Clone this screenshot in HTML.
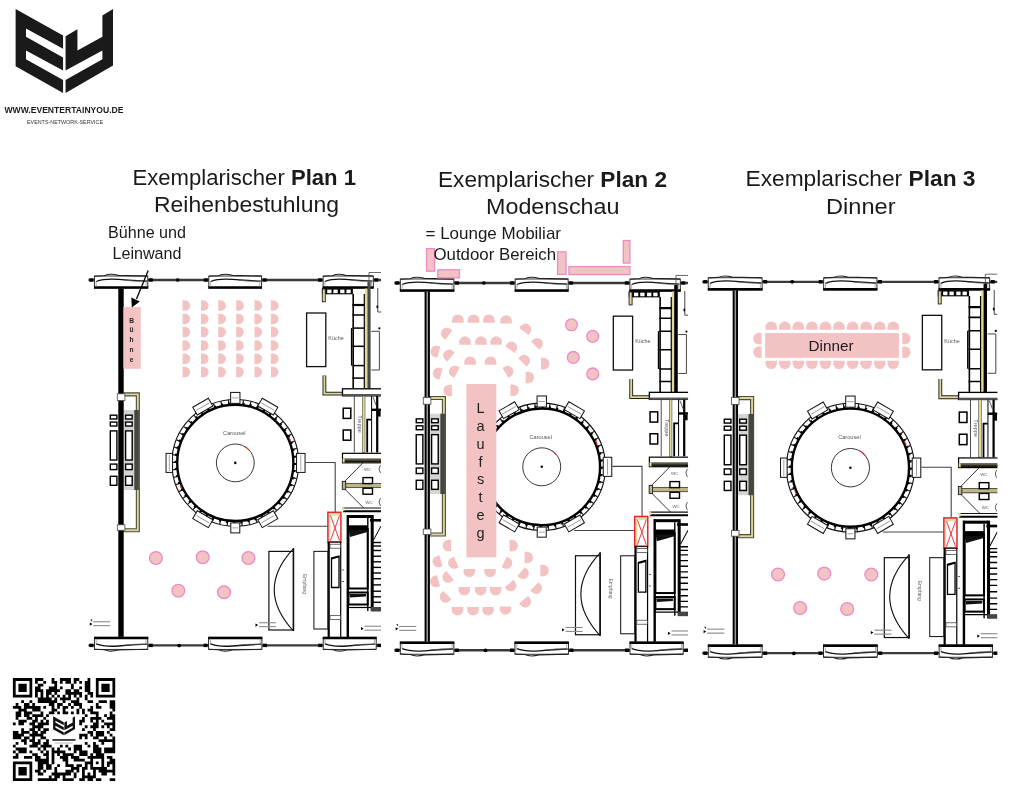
<!DOCTYPE html>
<html><head><meta charset="utf-8"><title>Plan</title>
<style>
html,body{margin:0;padding:0;background:#fff;}
body{width:1019px;height:801px;overflow:hidden;position:relative;font-family:"Liberation Sans",sans-serif;}
svg text{font-family:"Liberation Sans",sans-serif;}
svg{will-change:transform;}
</style></head><body>
<svg width="1019" height="801" viewBox="0 0 1019 801" style="position:absolute;left:0;top:0">
<defs>
<clipPath id="pc"><rect x="86" y="262" width="295" height="400"/></clipPath>
<path id="ch" d="M-4,-5.5 H-1.5 A5.5,5.5 0 0 1 -1.5,5.5 H-4 Z" fill="#F3C3C4"/>
<g id="base"><line x1="88.5" y1="280" x2="381" y2="280" stroke="#3a3a3a" stroke-width="2.3"/>
<line x1="88.5" y1="645.4" x2="381" y2="645.4" stroke="#3a3a3a" stroke-width="2.3"/>
<rect x="94.4" y="276.0" width="53.4" height="12.3" fill="#fff" stroke="#1a1a1a" stroke-width="0.9"/>
<path d="M94.7,276.2 L104.4,275.7 Q109.9,273.0 118.3,275.4 L147.5,276.1" fill="none" stroke="#222" stroke-width="1.1"/>
<path d="M96.2,281.5 Q104.4,278.4 118.3,279.4 T147.0,281.2" fill="none" stroke="#111" stroke-width="1.3"/>
<path d="M123.9,280.2 Q135.1,281.6 146.0,281.0" fill="none" stroke="#555" stroke-width="0.8"/>
<line x1="94.0" y1="287.3" x2="148.2" y2="287.3" stroke="#000" stroke-width="2.2"/>
<line x1="96.2" y1="281.0" x2="96.2" y2="287.0" stroke="#777" stroke-width="0.6"/>
<line x1="146.0" y1="281.0" x2="146.0" y2="287.0" stroke="#777" stroke-width="0.6"/>
<rect x="89.4" y="278.3" width="4" height="3.4" fill="#000"/>
<rect x="148.8" y="278.3" width="4" height="3.4" fill="#000"/>
<rect x="208.79999999999998" y="276.0" width="52.8" height="12.3" fill="#fff" stroke="#1a1a1a" stroke-width="0.9"/>
<path d="M209.1,276.2 L218.6,275.7 Q224.2,273.0 232.4,275.4 L261.3,276.1" fill="none" stroke="#222" stroke-width="1.1"/>
<path d="M210.6,281.5 Q218.6,278.4 232.4,279.4 T260.8,281.2" fill="none" stroke="#111" stroke-width="1.3"/>
<path d="M238.0,280.2 Q249.0,281.6 259.8,281.0" fill="none" stroke="#555" stroke-width="0.8"/>
<line x1="208.4" y1="287.3" x2="262.0" y2="287.3" stroke="#000" stroke-width="2.2"/>
<line x1="210.6" y1="281.0" x2="210.6" y2="287.0" stroke="#777" stroke-width="0.6"/>
<line x1="259.8" y1="281.0" x2="259.8" y2="287.0" stroke="#777" stroke-width="0.6"/>
<rect x="203.79999999999998" y="278.3" width="4" height="3.4" fill="#000"/>
<rect x="262.6" y="278.3" width="4" height="3.4" fill="#000"/>
<rect x="323.09999999999997" y="276.0" width="50.2" height="12.3" fill="#fff" stroke="#1a1a1a" stroke-width="0.9"/>
<path d="M323.4,276.2 L332.4,275.7 Q337.7,273.0 345.6,275.4 L373.0,276.1" fill="none" stroke="#222" stroke-width="1.1"/>
<path d="M324.9,281.5 Q332.4,278.4 345.6,279.4 T372.5,281.2" fill="none" stroke="#111" stroke-width="1.3"/>
<path d="M350.8,280.2 Q361.4,281.6 371.5,281.0" fill="none" stroke="#555" stroke-width="0.8"/>
<line x1="322.7" y1="287.3" x2="373.7" y2="287.3" stroke="#000" stroke-width="2.2"/>
<line x1="324.9" y1="281.0" x2="324.9" y2="287.0" stroke="#777" stroke-width="0.6"/>
<line x1="371.5" y1="281.0" x2="371.5" y2="287.0" stroke="#777" stroke-width="0.6"/>
<rect x="318.09999999999997" y="278.3" width="4" height="3.4" fill="#000"/>
<rect x="374.3" y="278.3" width="4" height="3.4" fill="#000"/>
<g transform="translate(0,925.4) scale(1,-1)">
<rect x="94.4" y="276.0" width="53.4" height="12.3" fill="#fff" stroke="#1a1a1a" stroke-width="0.9"/>
<path d="M94.7,276.2 L104.4,275.7 Q109.9,273.0 118.3,275.4 L147.5,276.1" fill="none" stroke="#222" stroke-width="1.1"/>
<path d="M96.2,281.5 Q104.4,278.4 118.3,279.4 T147.0,281.2" fill="none" stroke="#111" stroke-width="1.3"/>
<path d="M123.9,280.2 Q135.1,281.6 146.0,281.0" fill="none" stroke="#555" stroke-width="0.8"/>
<line x1="94.0" y1="287.3" x2="148.2" y2="287.3" stroke="#000" stroke-width="2.2"/>
<line x1="96.2" y1="281.0" x2="96.2" y2="287.0" stroke="#777" stroke-width="0.6"/>
<line x1="146.0" y1="281.0" x2="146.0" y2="287.0" stroke="#777" stroke-width="0.6"/>
<rect x="89.4" y="278.3" width="4" height="3.4" fill="#000"/>
<rect x="148.8" y="278.3" width="4" height="3.4" fill="#000"/>
<rect x="208.6" y="276.0" width="53.3" height="12.3" fill="#fff" stroke="#1a1a1a" stroke-width="0.9"/>
<path d="M208.9,276.2 L218.5,275.7 Q224.1,273.0 232.5,275.4 L261.6,276.1" fill="none" stroke="#222" stroke-width="1.1"/>
<path d="M210.4,281.5 Q218.5,278.4 232.5,279.4 T261.1,281.2" fill="none" stroke="#111" stroke-width="1.3"/>
<path d="M238.0,280.2 Q249.2,281.6 260.1,281.0" fill="none" stroke="#555" stroke-width="0.8"/>
<line x1="208.20000000000002" y1="287.3" x2="262.3" y2="287.3" stroke="#000" stroke-width="2.2"/>
<line x1="210.4" y1="281.0" x2="210.4" y2="287.0" stroke="#777" stroke-width="0.6"/>
<line x1="260.1" y1="281.0" x2="260.1" y2="287.0" stroke="#777" stroke-width="0.6"/>
<rect x="203.6" y="278.3" width="4" height="3.4" fill="#000"/>
<rect x="262.90000000000003" y="278.3" width="4" height="3.4" fill="#000"/>
<rect x="323.2" y="276.0" width="53.0" height="12.3" fill="#fff" stroke="#1a1a1a" stroke-width="0.9"/>
<path d="M323.5,276.2 L333.1,275.7 Q338.6,273.0 346.9,275.4 L375.9,276.1" fill="none" stroke="#222" stroke-width="1.1"/>
<path d="M325.0,281.5 Q333.1,278.4 346.9,279.4 T375.4,281.2" fill="none" stroke="#111" stroke-width="1.3"/>
<path d="M352.5,280.2 Q363.5,281.6 374.4,281.0" fill="none" stroke="#555" stroke-width="0.8"/>
<line x1="322.8" y1="287.3" x2="376.59999999999997" y2="287.3" stroke="#000" stroke-width="2.2"/>
<line x1="325.0" y1="281.0" x2="325.0" y2="287.0" stroke="#777" stroke-width="0.6"/>
<line x1="374.4" y1="281.0" x2="374.4" y2="287.0" stroke="#777" stroke-width="0.6"/>
<rect x="318.2" y="278.3" width="4" height="3.4" fill="#000"/>
<rect x="377.2" y="278.3" width="4" height="3.4" fill="#000"/>
</g>
<ellipse cx="177.6" cy="280" rx="2" ry="1.8" fill="#000"/>
<ellipse cx="179.2" cy="645.6" rx="2" ry="1.8" fill="#000"/>
<path d="M369,272.5 H381 M369,272.5 V289" fill="none" stroke="#444" stroke-width="0.8"/>
<path d="M123.5,394.4 H137.85 V530.3 H123.5" fill="none" stroke="#4e4c3c" stroke-width="4.1"/>
<path d="M123.5,394.4 H137.85 V530.3 H123.5" fill="none" stroke="#DCD49C" stroke-width="1.9"/>
<rect x="124" y="410" width="14.6" height="80" fill="#d4d4d4"/>
<rect x="134.3" y="410" width="4.6" height="80" fill="#46463e"/>
<rect x="110.3" y="415.2" width="6.6" height="3.8" fill="#fff" stroke="#000" stroke-width="1.4"/>
<rect x="110.3" y="422.09999999999997" width="6.6" height="3.9" fill="#fff" stroke="#000" stroke-width="1.4"/>
<rect x="110.3" y="430.9" width="6.6" height="29.1" fill="#fff" stroke="#000" stroke-width="1.4"/>
<rect x="110.3" y="464.09999999999997" width="6.6" height="5.5" fill="#fff" stroke="#000" stroke-width="1.4"/>
<rect x="110.3" y="476.3" width="6.6" height="9.0" fill="#fff" stroke="#000" stroke-width="1.4"/>
<rect x="125.60000000000001" y="415.2" width="6.6" height="3.8" fill="#fff" stroke="#000" stroke-width="1.4"/>
<rect x="125.60000000000001" y="422.09999999999997" width="6.6" height="3.9" fill="#fff" stroke="#000" stroke-width="1.4"/>
<rect x="125.60000000000001" y="430.9" width="6.6" height="29.1" fill="#fff" stroke="#000" stroke-width="1.4"/>
<rect x="125.60000000000001" y="464.09999999999997" width="6.6" height="5.5" fill="#fff" stroke="#000" stroke-width="1.4"/>
<rect x="125.60000000000001" y="476.3" width="6.6" height="9.0" fill="#fff" stroke="#000" stroke-width="1.4"/>
<circle cx="235.3" cy="462.9" r="63.4" fill="#fff" stroke="#111" stroke-width="1.1"/>
<circle cx="235.3" cy="462.9" r="60.8" fill="none" stroke="#222" stroke-width="5" pathLength="520" stroke-dasharray="1.7 8.3"/>
<circle cx="235.3" cy="462.9" r="59.6" fill="none" stroke="#000" stroke-width="2.2" pathLength="520" stroke-dasharray="3 7"/>
<circle cx="235.3" cy="462.9" r="58.1" fill="none" stroke="#000" stroke-width="2.4"/>
<g transform="translate(235.30,397.90) rotate(360)"><rect x="-4.65" y="-5.5" width="9.3" height="11" fill="#fff" stroke="#111" stroke-width="1.0"/><line x1="-3.1500000000000004" y1="0" x2="3.1500000000000004" y2="0" stroke="#666" stroke-width="0.6"/></g>
<g transform="translate(235.30,527.90) rotate(180)"><rect x="-4.5" y="-5.0" width="9" height="10" fill="#fff" stroke="#111" stroke-width="1.0"/><line x1="-3.0" y1="0" x2="3.0" y2="0" stroke="#666" stroke-width="0.6"/></g>
<g transform="translate(169.30,462.90) rotate(270)"><rect x="-9.5" y="-3.25" width="19" height="6.5" fill="#fff" stroke="#111" stroke-width="1.0"/><line x1="-8.0" y1="0" x2="8.0" y2="0" stroke="#666" stroke-width="0.6"/></g>
<g transform="translate(300.80,462.90) rotate(90)"><rect x="-9.5" y="-4.25" width="19" height="8.5" fill="#fff" stroke="#111" stroke-width="1.0"/><line x1="-8.0" y1="0" x2="8.0" y2="0" stroke="#666" stroke-width="0.6"/></g>
<g transform="translate(202.80,406.61) rotate(330)"><rect x="-9.0" y="-4.5" width="18" height="9" fill="#fff" stroke="#111" stroke-width="1.0"/><line x1="-7.5" y1="0" x2="7.5" y2="0" stroke="#666" stroke-width="0.6"/></g>
<g transform="translate(267.80,406.61) rotate(390)"><rect x="-9.0" y="-4.5" width="18" height="9" fill="#fff" stroke="#111" stroke-width="1.0"/><line x1="-7.5" y1="0" x2="7.5" y2="0" stroke="#666" stroke-width="0.6"/></g>
<g transform="translate(202.80,519.19) rotate(210)"><rect x="-9.0" y="-4.5" width="18" height="9" fill="#fff" stroke="#111" stroke-width="1.0"/><line x1="-7.5" y1="0" x2="7.5" y2="0" stroke="#666" stroke-width="0.6"/></g>
<g transform="translate(267.80,519.19) rotate(150)"><rect x="-9.0" y="-4.5" width="18" height="9" fill="#fff" stroke="#111" stroke-width="1.0"/><line x1="-7.5" y1="0" x2="7.5" y2="0" stroke="#666" stroke-width="0.6"/></g>
<circle cx="235.3" cy="462.9" r="18.9" fill="none" stroke="#222" stroke-width="0.9"/>
<circle cx="235.3" cy="462.9" r="1.3" fill="#111"/>
<path d="M244.75,446.53 A18.9,18.9 0 0 1 249.78,450.75" fill="none" stroke="#E5262E" stroke-width="1.1"/>
<path d="M288.78,436.82 A59.5,59.5 0 0 1 290.47,440.61 M181.82,488.98 A59.5,59.5 0 0 1 180.13,485.19" fill="none" stroke="#E5262E" stroke-width="1.2"/>
<text x="234.3" y="434.8" font-size="5.6" fill="#555" text-anchor="middle">Carousel</text>
<rect x="306.6" y="313" width="19.2" height="53.6" fill="none" stroke="#111" stroke-width="1.3"/>
<text x="336" y="340" font-size="5.4" fill="#555" text-anchor="middle">Küche</text>
<rect x="321.9" y="288.3" width="31" height="6" fill="#000"/>
<rect x="327.2" y="289.6" width="4.3" height="3.6" fill="#fff"/>
<rect x="333.4" y="289.6" width="4.3" height="3.6" fill="#fff"/>
<rect x="340.2" y="289.6" width="4.3" height="3.6" fill="#fff"/>
<rect x="346.4" y="289.6" width="4.3" height="3.6" fill="#fff"/>
<rect x="322.3" y="289" width="3" height="12.8" fill="#E2D89A" stroke="#222" stroke-width="0.9"/>
<path d="M353.2,294 V388.5" stroke="#000" stroke-width="1.6"/>
<path d="M351.6,328.1 V365.6" stroke="#000" stroke-width="1.4"/>
<line x1="352.4" y1="305" x2="365" y2="305" stroke="#000" stroke-width="2.2"/>
<line x1="352.4" y1="315" x2="365" y2="315" stroke="#000" stroke-width="1.5"/>
<line x1="352.4" y1="328.1" x2="365" y2="328.1" stroke="#000" stroke-width="1.5"/>
<line x1="352.4" y1="346.3" x2="365" y2="346.3" stroke="#000" stroke-width="1.5"/>
<line x1="352.4" y1="365.6" x2="365" y2="365.6" stroke="#000" stroke-width="1.5"/>
<line x1="352.4" y1="378.1" x2="365" y2="378.1" stroke="#000" stroke-width="1.5"/>
<rect x="364.9" y="288.5" width="2.4" height="100" fill="#E2D89A"/>
<line x1="364.3" y1="294" x2="364.3" y2="388.5" stroke="#000" stroke-width="1.2"/>
<rect x="367.4" y="282" width="3.2" height="106.5" fill="#4a4a4a" class="dstrip"/>
<path d="M377.8,288 V312 H381 M371.3,331.3 H379.4 V370 H371.3" fill="none" stroke="#333" stroke-width="0.9"/>
<circle cx="379.4" cy="328.3" r="1.1" fill="#000"/>
<rect x="376.5" y="305.5" width="1.6" height="2.6" fill="#000"/>
<path d="M324.4,375.6 V393.6 H342.5" fill="none" stroke="#222" stroke-width="3.8"/>
<path d="M324.4,375.6 V393.6 H342.5" fill="none" stroke="#E2D89A" stroke-width="1.9"/>
<rect x="342.5" y="388.8" width="40" height="7" fill="#fff" stroke="#000" stroke-width="1.3"/>
<rect x="342.5" y="394" width="40" height="2.2" fill="#555"/>
<line x1="354.3" y1="396" x2="354.3" y2="452.5" stroke="#222" stroke-width="0.8"/>
<rect x="362.4" y="396" width="2.6" height="56.5" fill="#E2D89A" stroke="#333" stroke-width="0.5"/>
<path d="M367.2,452.5 V419.6 H371.3" fill="none" stroke="#000" stroke-width="1.8"/>
<line x1="371.6" y1="396" x2="371.6" y2="452.5" stroke="#000" stroke-width="1.0"/>
<line x1="377.2" y1="396" x2="377.2" y2="452.5" stroke="#000" stroke-width="2.2"/>
<rect x="371.6" y="408.6" width="9.5" height="2.4" fill="#000"/>
<rect x="377.4" y="411" width="3.2" height="5.6" fill="#000"/>
<path d="M373,397 L376,405" stroke="#333" stroke-width="0.8"/>
<text transform="translate(358.2,424) rotate(90)" font-size="5.6" fill="#555" text-anchor="middle">Treppe</text>
<rect x="343.2" y="408.2" width="7.6" height="10.2" fill="#fff" stroke="#000" stroke-width="1.5"/>
<rect x="343.2" y="430.0" width="7.6" height="10.2" fill="#fff" stroke="#000" stroke-width="1.5"/>
<rect x="342.5" y="453.3" width="40" height="9.5" fill="#fff" stroke="#000" stroke-width="1.2"/>
<rect x="343.2" y="458.4" width="39" height="3.2" fill="#5c5842"/>
<rect x="343.2" y="460.6" width="39" height="1.6" fill="#1a1a14"/>
<rect x="342.6" y="458.5" width="2" height="4" fill="#E2D89A"/>
<path d="M343.7,482.4 L363,462.8 M343.7,488 L363.7,508" stroke="#222" stroke-width="0.9" fill="none"/>
<rect x="342.8" y="483.4" width="40" height="4.2" fill="#BDB688" stroke="#4a4736" stroke-width="0.9"/>
<rect x="342.3" y="481.4" width="3.4" height="8" fill="#BDB688" stroke="#222" stroke-width="0.9"/>
<rect x="363" y="477.6" width="9.5" height="6" fill="#fff" stroke="#000" stroke-width="1.4"/>
<rect x="363" y="488.2" width="9.5" height="6" fill="#fff" stroke="#000" stroke-width="1.4"/>
<text x="367.5" y="471" font-size="4.3" fill="#555" text-anchor="middle">WC</text>
<text x="369" y="503.5" font-size="4.3" fill="#555" text-anchor="middle">WC</text>
<path d="M380.5,465 Q377.5,469 380.5,473 M380.5,498 Q377.5,502 380.5,506" fill="none" stroke="#333" stroke-width="0.8"/>
<line x1="342.5" y1="508" x2="382" y2="508" stroke="#111" stroke-width="1.1"/>
<line x1="343" y1="511.2" x2="382" y2="511.2" stroke="#000" stroke-width="2"/>
<rect x="342.4" y="507.2" width="2" height="4" fill="#E2D89A"/>
<path d="M305.5,462.5 H335.2 V512 M267.5,526.2 H327.8" fill="none" stroke="#444" stroke-width="1.1"/>
<rect x="328.2" y="512.6" width="12.4" height="3" fill="#E2D89A"/>
<rect x="328.5" y="512.6" width="1.8" height="29" fill="#E2D89A"/>
<rect x="327.9" y="512.3" width="13" height="29.8" fill="none" stroke="#E5262E" stroke-width="1.5"/>
<path d="M330.5,515.5 L339.5,540.5 M339.5,515.5 L330.5,540.5" stroke="#E5262E" stroke-width="0.9" fill="none"/>
<line x1="328.5" y1="542" x2="341" y2="542" stroke="#222" stroke-width="1.2"/>
<line x1="328.7" y1="542" x2="328.7" y2="637" stroke="#000" stroke-width="2.2"/>
<line x1="340.7" y1="542" x2="340.7" y2="637" stroke="#000" stroke-width="1.2"/>
<line x1="347.8" y1="515" x2="347.8" y2="637" stroke="#000" stroke-width="2.4"/>
<rect x="330" y="544.2" width="10.5" height="4" fill="#fff" stroke="#333" stroke-width="0.7"/>
<rect x="330" y="615.5" width="10.5" height="4" fill="#fff" stroke="#333" stroke-width="0.7"/>
<path d="M331.5,587.5 V558 L339,556 V587.5 Z" fill="none" stroke="#000" stroke-width="1.3"/>
<path d="M331.5,558 L339,556 L339,557.5 L331.5,559.5 Z" fill="#000"/>
<line x1="342" y1="570" x2="344" y2="570" stroke="#333" stroke-width="0.8"/>
<line x1="342" y1="581.5" x2="344" y2="581.5" stroke="#333" stroke-width="0.8"/>
<rect x="347" y="515" width="25" height="3" fill="#000"/>
<rect x="348" y="525.3" width="20" height="4" fill="#000"/>
<path d="M348.5,529 H367.5 V532 L350,537 Z" fill="#111"/>
<rect x="348.5" y="529" width="19.2" height="59.5" fill="none" stroke="#000" stroke-width="2"/>
<rect x="348.5" y="592.5" width="19.2" height="12" fill="none" stroke="#000" stroke-width="2"/>
<path d="M349.5,594 H366 V596.5 L350,597.5 Z" fill="#111"/>
<line x1="347" y1="607.5" x2="371.5" y2="607.5" stroke="#000" stroke-width="1.2"/>
<line x1="367.8" y1="518" x2="367.8" y2="611" stroke="#000" stroke-width="1.4"/>
<rect x="370.7" y="515" width="3" height="96" fill="#000"/>
<line x1="373" y1="542.5" x2="381" y2="542.5" stroke="#000" stroke-width="1.4"/>
<line x1="373" y1="546" x2="381" y2="546" stroke="#000" stroke-width="1.4"/>
<line x1="373" y1="550.5" x2="381" y2="550.5" stroke="#000" stroke-width="1.4"/>
<line x1="373" y1="556.2" x2="381" y2="556.2" stroke="#000" stroke-width="1.4"/>
<line x1="373" y1="561.8" x2="381" y2="561.8" stroke="#000" stroke-width="1.4"/>
<line x1="373" y1="567.4" x2="381" y2="567.4" stroke="#000" stroke-width="1.4"/>
<line x1="373" y1="573" x2="381" y2="573" stroke="#000" stroke-width="1.4"/>
<line x1="373" y1="578.7" x2="381" y2="578.7" stroke="#000" stroke-width="1.4"/>
<line x1="373" y1="584.9" x2="381" y2="584.9" stroke="#000" stroke-width="1.4"/>
<line x1="373" y1="591.2" x2="381" y2="591.2" stroke="#000" stroke-width="1.4"/>
<line x1="373" y1="596.8" x2="381" y2="596.8" stroke="#000" stroke-width="1.4"/>
<line x1="373" y1="602.3" x2="381" y2="602.3" stroke="#000" stroke-width="1.4"/>
<rect x="371" y="607" width="10" height="4.5" fill="#444"/>
<path d="M373.5,540 L381,526" stroke="#000" stroke-width="1"/>
<rect x="370" y="519" width="11" height="2.6" fill="#000"/>
<rect x="268.9" y="551.4" width="24.5" height="78.6" fill="none" stroke="#111" stroke-width="1.2"/>
<path d="M293.5,548.6 Q255,589.5 293.5,631" fill="none" stroke="#111" stroke-width="1.1"/>
<line x1="293.5" y1="548" x2="293.5" y2="631" stroke="#111" stroke-width="1.5"/>
<text transform="translate(302.5,584) rotate(90)" font-size="5" fill="#666" text-anchor="middle">Empfang</text>
<rect x="313.9" y="551.4" width="14" height="77.6" fill="none" stroke="#222" stroke-width="1.1"/>
<path d="M89.8,622.5 l2.6,1.6 l-2.6,1.6 z" fill="#000"/><rect x="93.3" y="621.2" width="17" height="1.1" fill="#8a8a8a"/><rect x="93.3" y="625.1" width="17" height="1.1" fill="#8a8a8a"/>
<path d="M90.5,619 l2,1 l-1,1.5z" fill="#000"/>
<path d="M255.5,623.5 l2.6,1.6 l-2.6,1.6 z" fill="#000"/><rect x="259.0" y="622.2" width="17" height="1.1" fill="#8a8a8a"/><rect x="259.0" y="626.1" width="17" height="1.1" fill="#8a8a8a"/>
<path d="M361,627 l2.6,1.6 l-2.6,1.6 z" fill="#000"/><rect x="364.5" y="625.7" width="17" height="1.1" fill="#8a8a8a"/><rect x="364.5" y="629.6" width="17" height="1.1" fill="#8a8a8a"/></g>
</defs>
<g clip-path="url(#pc)">
<use href="#base"/>
<rect x="118.3" y="288.5" width="5.4" height="348.4" fill="#000"/><rect x="117.3" y="393.8" width="7.6" height="6.8" fill="#fff" stroke="#444" stroke-width="0.8"/><rect x="117.3" y="524.8" width="7.6" height="5.5" fill="#fff" stroke="#444" stroke-width="0.8"/>
</g>
<g transform="translate(305.5,1.6) scale(1.004,1.005)"><g clip-path="url(#pc)">
<use href="#base"/>
<rect x="118.6" y="288.5" width="5.3" height="348.4" fill="#000"/><rect x="120.5" y="288.5" width="1.5" height="348.4" fill="#9a9a9a"/><rect x="117.3" y="393.8" width="7.6" height="6.8" fill="#fff" stroke="#444" stroke-width="0.8"/><rect x="117.3" y="524.8" width="7.6" height="5.5" fill="#fff" stroke="#444" stroke-width="0.8"/>
<rect x="367.4" y="282" width="3.2" height="106.5" fill="#000"/>
</g></g>
<g transform="translate(613,-2.79) scale(1.009,1.0164)"><g clip-path="url(#pc)">
<use href="#base"/>
<rect x="118.6" y="288.5" width="5.3" height="348.4" fill="#000"/><rect x="120.5" y="288.5" width="1.5" height="348.4" fill="#9a9a9a"/><rect x="117.3" y="393.8" width="7.6" height="6.8" fill="#fff" stroke="#444" stroke-width="0.8"/><rect x="117.3" y="524.8" width="7.6" height="5.5" fill="#fff" stroke="#444" stroke-width="0.8"/>
<rect x="367.4" y="282" width="3.2" height="106.5" fill="#000"/>
</g></g>
<rect x="123.4" y="307" width="17.4" height="61.8" fill="#F3C3C4"/>
<text x="131.6" y="322.5" font-size="6.6" fill="#222" font-weight="bold" text-anchor="middle">B</text>
<text x="131.6" y="332.3" font-size="6.6" fill="#222" font-weight="bold" text-anchor="middle">ü</text>
<text x="131.6" y="342.1" font-size="6.6" fill="#222" font-weight="bold" text-anchor="middle">h</text>
<text x="131.6" y="351.9" font-size="6.6" fill="#222" font-weight="bold" text-anchor="middle">n</text>
<text x="131.6" y="361.7" font-size="6.6" fill="#222" font-weight="bold" text-anchor="middle">e</text>
<path d="M148.2,270.6 L136.5,299" stroke="#000" stroke-width="1.3"/>
<path d="M131.3,297.4 L139.8,301.4 L131.8,307.6 Z" fill="#000"/>
<use href="#ch" transform="translate(186.4,305.6) rotate(0) scale(0.955)"/>
<use href="#ch" transform="translate(186.4,318.9) rotate(0) scale(0.955)"/>
<use href="#ch" transform="translate(186.4,332.1) rotate(0) scale(0.955)"/>
<use href="#ch" transform="translate(186.4,345.4) rotate(0) scale(0.955)"/>
<use href="#ch" transform="translate(186.4,358.8) rotate(0) scale(0.955)"/>
<use href="#ch" transform="translate(186.4,372.1) rotate(0) scale(0.955)"/>
<use href="#ch" transform="translate(204.8,305.6) rotate(0) scale(0.955)"/>
<use href="#ch" transform="translate(204.8,318.9) rotate(0) scale(0.955)"/>
<use href="#ch" transform="translate(204.8,332.1) rotate(0) scale(0.955)"/>
<use href="#ch" transform="translate(204.8,345.4) rotate(0) scale(0.955)"/>
<use href="#ch" transform="translate(204.8,358.8) rotate(0) scale(0.955)"/>
<use href="#ch" transform="translate(204.8,372.1) rotate(0) scale(0.955)"/>
<use href="#ch" transform="translate(222.1,305.6) rotate(0) scale(0.955)"/>
<use href="#ch" transform="translate(222.1,318.9) rotate(0) scale(0.955)"/>
<use href="#ch" transform="translate(222.1,332.1) rotate(0) scale(0.955)"/>
<use href="#ch" transform="translate(222.1,345.4) rotate(0) scale(0.955)"/>
<use href="#ch" transform="translate(222.1,358.8) rotate(0) scale(0.955)"/>
<use href="#ch" transform="translate(222.1,372.1) rotate(0) scale(0.955)"/>
<use href="#ch" transform="translate(240.0,305.6) rotate(0) scale(0.955)"/>
<use href="#ch" transform="translate(240.0,318.9) rotate(0) scale(0.955)"/>
<use href="#ch" transform="translate(240.0,332.1) rotate(0) scale(0.955)"/>
<use href="#ch" transform="translate(240.0,345.4) rotate(0) scale(0.955)"/>
<use href="#ch" transform="translate(240.0,358.8) rotate(0) scale(0.955)"/>
<use href="#ch" transform="translate(240.0,372.1) rotate(0) scale(0.955)"/>
<use href="#ch" transform="translate(258.3,305.6) rotate(0) scale(0.955)"/>
<use href="#ch" transform="translate(258.3,318.9) rotate(0) scale(0.955)"/>
<use href="#ch" transform="translate(258.3,332.1) rotate(0) scale(0.955)"/>
<use href="#ch" transform="translate(258.3,345.4) rotate(0) scale(0.955)"/>
<use href="#ch" transform="translate(258.3,358.8) rotate(0) scale(0.955)"/>
<use href="#ch" transform="translate(258.3,372.1) rotate(0) scale(0.955)"/>
<use href="#ch" transform="translate(274.7,305.6) rotate(0) scale(0.955)"/>
<use href="#ch" transform="translate(274.7,318.9) rotate(0) scale(0.955)"/>
<use href="#ch" transform="translate(274.7,332.1) rotate(0) scale(0.955)"/>
<use href="#ch" transform="translate(274.7,345.4) rotate(0) scale(0.955)"/>
<use href="#ch" transform="translate(274.7,358.8) rotate(0) scale(0.955)"/>
<use href="#ch" transform="translate(274.7,372.1) rotate(0) scale(0.955)"/>
<circle cx="155.9" cy="558" r="6.4" fill="#F3C3C4" stroke="#EC8AC8" stroke-width="1.3"/>
<circle cx="202.7" cy="557.2" r="6.4" fill="#F3C3C4" stroke="#EC8AC8" stroke-width="1.3"/>
<circle cx="248.4" cy="558" r="6.4" fill="#F3C3C4" stroke="#EC8AC8" stroke-width="1.3"/>
<circle cx="178.3" cy="590.8" r="6.4" fill="#F3C3C4" stroke="#EC8AC8" stroke-width="1.3"/>
<circle cx="224" cy="592.2" r="6.4" fill="#F3C3C4" stroke="#EC8AC8" stroke-width="1.3"/>
<rect x="426.5" y="248.6" width="8" height="22.6" fill="#F3C3C4" stroke="#EC8AC8" stroke-width="1.3"/>
<rect x="437.8" y="269.8" width="21.6" height="8" fill="#F3C3C4" stroke="#EC8AC8" stroke-width="1.3"/>
<rect x="557.6" y="251.9" width="8.4" height="22.5" fill="#F3C3C4" stroke="#EC8AC8" stroke-width="1.3"/>
<rect x="568.9" y="266.6" width="61" height="8" fill="#F3C3C4" stroke="#EC8AC8" stroke-width="1.3"/>
<rect x="623.3" y="240.5" width="6.6" height="22.5" fill="#F3C3C4" stroke="#EC8AC8" stroke-width="1.3"/>
<rect x="466.4" y="384" width="30" height="173.4" fill="#F3C3C4"/>
<text x="480.6" y="413.2" font-size="14.5" fill="#222" text-anchor="middle">L</text>
<text x="480.6" y="431.0" font-size="14.5" fill="#222" text-anchor="middle">a</text>
<text x="480.6" y="448.8" font-size="14.5" fill="#222" text-anchor="middle">u</text>
<text x="480.6" y="466.6" font-size="14.5" fill="#222" text-anchor="middle">f</text>
<text x="480.6" y="484.4" font-size="14.5" fill="#222" text-anchor="middle">s</text>
<text x="480.6" y="502.2" font-size="14.5" fill="#222" text-anchor="middle">t</text>
<text x="480.6" y="520.0" font-size="14.5" fill="#222" text-anchor="middle">e</text>
<text x="480.6" y="537.8" font-size="14.5" fill="#222" text-anchor="middle">g</text>
<use href="#ch" transform="translate(457.8,318.6) rotate(-90) scale(1.05)"/>
<use href="#ch" transform="translate(473.4,318.6) rotate(-90) scale(1.05)"/>
<use href="#ch" transform="translate(488.9,318.6) rotate(-90) scale(1.05)"/>
<use href="#ch" transform="translate(506.1,319.4) rotate(-90) scale(1.05)"/>
<use href="#ch" transform="translate(526.4,328.1) rotate(-53) scale(1.05)"/>
<use href="#ch" transform="translate(538.2,342.6) rotate(-45) scale(1.05)"/>
<use href="#ch" transform="translate(545.2,363.6) rotate(0) scale(1.05)"/>
<use href="#ch" transform="translate(445.4,332.5) rotate(-143) scale(1.05)"/>
<use href="#ch" transform="translate(434.7,351.1) rotate(-165) scale(1.05)"/>
<use href="#ch" transform="translate(437.0,373.0) rotate(-165) scale(1.05)"/>
<use href="#ch" transform="translate(447.7,390.4) rotate(180) scale(1.05)"/>
<use href="#ch" transform="translate(465.0,340.5) rotate(-90) scale(1.05)"/>
<use href="#ch" transform="translate(481.0,340.5) rotate(-90) scale(1.05)"/>
<use href="#ch" transform="translate(496.2,340.5) rotate(-90) scale(1.05)"/>
<use href="#ch" transform="translate(512.4,346.1) rotate(-54) scale(1.05)"/>
<use href="#ch" transform="translate(525.3,359.4) rotate(-45) scale(1.05)"/>
<use href="#ch" transform="translate(529.8,377.4) rotate(0) scale(1.05)"/>
<use href="#ch" transform="translate(447.7,354.4) rotate(-142) scale(1.05)"/>
<use href="#ch" transform="translate(453.3,370.7) rotate(-152) scale(1.05)"/>
<use href="#ch" transform="translate(470.1,360.6) rotate(-90) scale(1.05)"/>
<use href="#ch" transform="translate(490.6,360.6) rotate(-90) scale(1.05)"/>
<use href="#ch" transform="translate(509.0,370.7) rotate(-30) scale(1.05)"/>
<use href="#ch" transform="translate(514.6,390.3) rotate(0) scale(1.05)"/>
<use href="#ch" transform="translate(446.9,545.6) rotate(180) scale(1.05)"/>
<use href="#ch" transform="translate(513.7,545.6) rotate(0) scale(1.05)"/>
<use href="#ch" transform="translate(528.7,557.5) rotate(0) scale(1.05)"/>
<use href="#ch" transform="translate(544.5,570.6) rotate(0) scale(1.05)"/>
<use href="#ch" transform="translate(436.9,561.9) rotate(165) scale(1.05)"/>
<use href="#ch" transform="translate(452.5,563.7) rotate(155) scale(1.05)"/>
<use href="#ch" transform="translate(508.0,563.7) rotate(25) scale(1.05)"/>
<use href="#ch" transform="translate(469.3,573.1) rotate(90) scale(1.05)"/>
<use href="#ch" transform="translate(490.0,573.1) rotate(90) scale(1.05)"/>
<use href="#ch" transform="translate(434.4,581.8) rotate(165) scale(1.05)"/>
<use href="#ch" transform="translate(446.9,578.1) rotate(140) scale(1.05)"/>
<use href="#ch" transform="translate(524.3,574.3) rotate(40) scale(1.05)"/>
<use href="#ch" transform="translate(464.3,591.2) rotate(90) scale(1.05)"/>
<use href="#ch" transform="translate(480.6,591.2) rotate(90) scale(1.05)"/>
<use href="#ch" transform="translate(495.6,591.2) rotate(90) scale(1.05)"/>
<use href="#ch" transform="translate(511.8,586.8) rotate(50) scale(1.05)"/>
<use href="#ch" transform="translate(537.4,589.3) rotate(45) scale(1.05)"/>
<use href="#ch" transform="translate(444.4,598.0) rotate(135) scale(1.05)"/>
<use href="#ch" transform="translate(526.2,603.0) rotate(50) scale(1.05)"/>
<use href="#ch" transform="translate(457.5,611.2) rotate(90) scale(1.05)"/>
<use href="#ch" transform="translate(473.1,611.2) rotate(90) scale(1.05)"/>
<use href="#ch" transform="translate(488.1,611.2) rotate(90) scale(1.05)"/>
<use href="#ch" transform="translate(505.5,610.6) rotate(90) scale(1.05)"/>
<circle cx="571.5" cy="324.8" r="5.9" fill="#F3C3C4" stroke="#EC8AC8" stroke-width="1.3"/>
<circle cx="592.7" cy="336.3" r="5.9" fill="#F3C3C4" stroke="#EC8AC8" stroke-width="1.3"/>
<circle cx="573.3" cy="357.4" r="5.9" fill="#F3C3C4" stroke="#EC8AC8" stroke-width="1.3"/>
<circle cx="592.7" cy="373.9" r="5.9" fill="#F3C3C4" stroke="#EC8AC8" stroke-width="1.3"/>
<rect x="765.1" y="333.1" width="133.8" height="24.7" fill="#F3C3C4"/>
<use href="#ch" transform="translate(771.2,325.6) rotate(-90) scale(1.045)"/>
<use href="#ch" transform="translate(771.2,364.9) rotate(90) scale(1.045)"/>
<use href="#ch" transform="translate(784.8,325.6) rotate(-90) scale(1.045)"/>
<use href="#ch" transform="translate(784.8,364.9) rotate(90) scale(1.045)"/>
<use href="#ch" transform="translate(798.3,325.6) rotate(-90) scale(1.045)"/>
<use href="#ch" transform="translate(798.3,364.9) rotate(90) scale(1.045)"/>
<use href="#ch" transform="translate(811.9,325.6) rotate(-90) scale(1.045)"/>
<use href="#ch" transform="translate(811.9,364.9) rotate(90) scale(1.045)"/>
<use href="#ch" transform="translate(825.4,325.6) rotate(-90) scale(1.045)"/>
<use href="#ch" transform="translate(825.4,364.9) rotate(90) scale(1.045)"/>
<use href="#ch" transform="translate(839.0,325.6) rotate(-90) scale(1.045)"/>
<use href="#ch" transform="translate(839.0,364.9) rotate(90) scale(1.045)"/>
<use href="#ch" transform="translate(852.6,325.6) rotate(-90) scale(1.045)"/>
<use href="#ch" transform="translate(852.6,364.9) rotate(90) scale(1.045)"/>
<use href="#ch" transform="translate(866.1,325.6) rotate(-90) scale(1.045)"/>
<use href="#ch" transform="translate(866.1,364.9) rotate(90) scale(1.045)"/>
<use href="#ch" transform="translate(879.7,325.6) rotate(-90) scale(1.045)"/>
<use href="#ch" transform="translate(879.7,364.9) rotate(90) scale(1.045)"/>
<use href="#ch" transform="translate(893.2,325.6) rotate(-90) scale(1.045)"/>
<use href="#ch" transform="translate(893.2,364.9) rotate(90) scale(1.045)"/>
<use href="#ch" transform="translate(757.4,338.6) rotate(180) scale(1.045)"/>
<use href="#ch" transform="translate(906.4,338.6) rotate(0) scale(1.045)"/>
<use href="#ch" transform="translate(757.4,352.2) rotate(180) scale(1.045)"/>
<use href="#ch" transform="translate(906.4,352.2) rotate(0) scale(1.045)"/>
<circle cx="778" cy="574.5" r="6.4" fill="#F3C3C4" stroke="#EC8AC8" stroke-width="1.3"/>
<circle cx="824.2" cy="573.6" r="6.4" fill="#F3C3C4" stroke="#EC8AC8" stroke-width="1.3"/>
<circle cx="871.3" cy="574.5" r="6.4" fill="#F3C3C4" stroke="#EC8AC8" stroke-width="1.3"/>
<circle cx="800.1" cy="608" r="6.4" fill="#F3C3C4" stroke="#EC8AC8" stroke-width="1.3"/>
<circle cx="847.2" cy="609" r="6.4" fill="#F3C3C4" stroke="#EC8AC8" stroke-width="1.3"/>
<text x="132.50" y="184.6" font-size="22.5" fill="#1a1a1a" textLength="223.50" lengthAdjust="spacingAndGlyphs">Exemplarischer <tspan font-weight="bold">Plan 1</tspan></text>
<text x="154.00" y="211.7" font-size="22.5" fill="#1a1a1a" font-weight="normal" textLength="185.00" lengthAdjust="spacingAndGlyphs">Reihenbestuhlung</text>
<text x="438.00" y="186.7" font-size="22.5" fill="#1a1a1a" textLength="229.00" lengthAdjust="spacingAndGlyphs">Exemplarischer <tspan font-weight="bold">Plan 2</tspan></text>
<text x="486.00" y="214.3" font-size="22.5" fill="#1a1a1a" font-weight="normal" textLength="133.50" lengthAdjust="spacingAndGlyphs">Modenschau</text>
<text x="745.50" y="185.7" font-size="22.5" fill="#1a1a1a" textLength="230.00" lengthAdjust="spacingAndGlyphs">Exemplarischer <tspan font-weight="bold">Plan 3</tspan></text>
<text x="826.00" y="213.5" font-size="22.5" fill="#1a1a1a" font-weight="normal" textLength="69.50" lengthAdjust="spacingAndGlyphs">Dinner</text>
<text x="108.00" y="238.4" font-size="16.3" fill="#1a1a1a" font-weight="normal" textLength="78.00" lengthAdjust="spacingAndGlyphs">Bühne und</text>
<text x="112.50" y="258.8" font-size="16.3" fill="#1a1a1a" font-weight="normal" textLength="69.00" lengthAdjust="spacingAndGlyphs">Leinwand</text>
<text x="425.50" y="239.4" font-size="16.1" fill="#1a1a1a" font-weight="normal" textLength="135.50" lengthAdjust="spacingAndGlyphs">= Lounge Mobiliar</text>
<text x="433.50" y="259.7" font-size="16.1" fill="#1a1a1a" font-weight="normal" textLength="122.50" lengthAdjust="spacingAndGlyphs">Outdoor Bereich</text>
<text x="808.50" y="350.8" font-size="14.8" fill="#1a1a1a" font-weight="normal" textLength="45.00" lengthAdjust="spacingAndGlyphs">Dinner</text>
<text x="4.50" y="112.9" font-size="9.6" fill="#1a1a1a" font-weight="bold" textLength="119.00" lengthAdjust="spacingAndGlyphs">WWW.EVENTERTAINYOU.DE</text>
<text x="27.00" y="123.9" font-size="5.7" fill="#333" font-weight="normal" textLength="76.00" lengthAdjust="spacingAndGlyphs">EVENTS-NETWORK-SERVICE</text>
<g transform="translate(10,0) scale(0.12487,0.12484)" fill="#1a1a1a">
<polygon points="45,72 425,285 425,390 128,228 128,295 425,460 425,565 128,405 128,475 425,640 425,745 45,530"/>
<polygon points="445,290 540,235 540,405 740,295 740,125 825,72 825,525 445,745 445,640 740,475 740,405 445,565"/>
</g>
<path d="M12.90,678.10h19.36v2.78h-19.36zM35.02,678.10h8.29v2.78h-8.29zM51.61,678.10h2.77v2.78h-2.77zM59.91,678.10h11.06v2.78h-11.06zM73.73,678.10h5.53v2.78h-5.53zM87.56,678.10h2.77v2.78h-2.77zM95.85,678.10h19.36v2.78h-19.36zM12.90,680.88h2.77v2.78h-2.77zM29.49,680.88h2.77v2.78h-2.77zM35.02,680.88h2.77v2.78h-2.77zM43.32,680.88h2.77v2.78h-2.77zM51.61,680.88h5.53v2.78h-5.53zM59.91,680.88h2.77v2.78h-2.77zM65.44,680.88h5.53v2.78h-5.53zM73.73,680.88h2.77v2.78h-2.77zM79.26,680.88h2.77v2.78h-2.77zM84.79,680.88h5.53v2.78h-5.53zM95.85,680.88h2.77v2.78h-2.77zM112.44,680.88h2.77v2.78h-2.77zM12.90,683.66h2.77v2.78h-2.77zM18.43,683.66h8.29v2.78h-8.29zM29.49,683.66h2.77v2.78h-2.77zM37.79,683.66h5.53v2.78h-5.53zM54.38,683.66h2.77v2.78h-2.77zM70.97,683.66h2.77v2.78h-2.77zM84.79,683.66h5.53v2.78h-5.53zM95.85,683.66h2.77v2.78h-2.77zM101.38,683.66h8.29v2.78h-8.29zM112.44,683.66h2.77v2.78h-2.77zM12.90,686.44h2.77v2.78h-2.77zM18.43,686.44h8.29v2.78h-8.29zM29.49,686.44h2.77v2.78h-2.77zM35.02,686.44h5.53v2.78h-5.53zM48.84,686.44h8.29v2.78h-8.29zM59.91,686.44h2.77v2.78h-2.77zM70.97,686.44h2.77v2.78h-2.77zM79.26,686.44h2.77v2.78h-2.77zM84.79,686.44h5.53v2.78h-5.53zM95.85,686.44h2.77v2.78h-2.77zM101.38,686.44h8.29v2.78h-8.29zM112.44,686.44h2.77v2.78h-2.77zM12.90,689.22h2.77v2.78h-2.77zM18.43,689.22h8.29v2.78h-8.29zM29.49,689.22h2.77v2.78h-2.77zM35.02,689.22h8.29v2.78h-8.29zM46.08,689.22h13.83v2.78h-13.83zM65.44,689.22h5.53v2.78h-5.53zM73.73,689.22h5.53v2.78h-5.53zM84.79,689.22h5.53v2.78h-5.53zM95.85,689.22h2.77v2.78h-2.77zM101.38,689.22h8.29v2.78h-8.29zM112.44,689.22h2.77v2.78h-2.77zM12.90,692.00h2.77v2.78h-2.77zM29.49,692.00h2.77v2.78h-2.77zM35.02,692.00h2.77v2.78h-2.77zM40.55,692.00h2.77v2.78h-2.77zM46.08,692.00h5.53v2.78h-5.53zM54.38,692.00h2.77v2.78h-2.77zM65.44,692.00h16.59v2.78h-16.59zM87.56,692.00h5.53v2.78h-5.53zM95.85,692.00h2.77v2.78h-2.77zM112.44,692.00h2.77v2.78h-2.77zM12.90,694.78h19.36v2.78h-19.36zM35.02,694.78h2.77v2.78h-2.77zM40.55,694.78h2.77v2.78h-2.77zM46.08,694.78h2.77v2.78h-2.77zM51.61,694.78h2.77v2.78h-2.77zM57.14,694.78h2.77v2.78h-2.77zM62.67,694.78h2.77v2.78h-2.77zM68.20,694.78h2.77v2.78h-2.77zM73.73,694.78h2.77v2.78h-2.77zM79.26,694.78h2.77v2.78h-2.77zM84.79,694.78h2.77v2.78h-2.77zM90.32,694.78h2.77v2.78h-2.77zM95.85,694.78h19.36v2.78h-19.36zM37.79,697.56h13.83v2.78h-13.83zM54.38,697.56h2.77v2.78h-2.77zM59.91,697.56h11.06v2.78h-11.06zM76.50,697.56h2.77v2.78h-2.77zM84.79,697.56h2.77v2.78h-2.77zM21.20,700.34h2.77v2.78h-2.77zM29.49,700.34h2.77v2.78h-2.77zM37.79,700.34h19.36v2.78h-19.36zM62.67,700.34h2.77v2.78h-2.77zM70.97,700.34h8.29v2.78h-8.29zM87.56,700.34h5.53v2.78h-5.53zM98.62,700.34h8.29v2.78h-8.29zM109.68,700.34h5.53v2.78h-5.53zM15.67,703.12h2.77v2.78h-2.77zM23.96,703.12h5.53v2.78h-5.53zM32.26,703.12h2.77v2.78h-2.77zM48.84,703.12h5.53v2.78h-5.53zM57.14,703.12h5.53v2.78h-5.53zM68.20,703.12h2.77v2.78h-2.77zM73.73,703.12h8.29v2.78h-8.29zM95.85,703.12h2.77v2.78h-2.77zM109.68,703.12h5.53v2.78h-5.53zM12.90,705.90h8.29v2.78h-8.29zM23.96,705.90h16.59v2.78h-16.59zM43.32,705.90h2.77v2.78h-2.77zM51.61,705.90h2.77v2.78h-2.77zM57.14,705.90h2.77v2.78h-2.77zM62.67,705.90h5.53v2.78h-5.53zM70.97,705.90h2.77v2.78h-2.77zM79.26,705.90h2.77v2.78h-2.77zM90.32,705.90h2.77v2.78h-2.77zM95.85,705.90h5.53v2.78h-5.53zM109.68,705.90h5.53v2.78h-5.53zM18.43,708.68h8.29v2.78h-8.29zM32.26,708.68h8.29v2.78h-8.29zM51.61,708.68h5.53v2.78h-5.53zM62.67,708.68h2.77v2.78h-2.77zM76.50,708.68h2.77v2.78h-2.77zM82.03,708.68h2.77v2.78h-2.77zM87.56,708.68h5.53v2.78h-5.53zM112.44,708.68h2.77v2.78h-2.77zM15.67,711.46h5.53v2.78h-5.53zM23.96,711.46h8.29v2.78h-8.29zM40.55,711.46h2.77v2.78h-2.77zM48.84,711.46h5.53v2.78h-5.53zM57.14,711.46h2.77v2.78h-2.77zM62.67,711.46h5.53v2.78h-5.53zM70.97,711.46h2.77v2.78h-2.77zM76.50,711.46h2.77v2.78h-2.77zM82.03,711.46h2.77v2.78h-2.77zM90.32,711.46h8.29v2.78h-8.29zM109.68,711.46h2.77v2.78h-2.77zM15.67,714.24h5.53v2.78h-5.53zM23.96,714.24h5.53v2.78h-5.53zM32.26,714.24h11.06v2.78h-11.06zM46.08,714.24h2.77v2.78h-2.77zM84.79,714.24h2.77v2.78h-2.77zM95.85,714.24h2.77v2.78h-2.77zM104.15,714.24h2.77v2.78h-2.77zM109.68,714.24h5.53v2.78h-5.53zM15.67,717.02h2.77v2.78h-2.77zM26.73,717.02h5.53v2.78h-5.53zM35.02,717.02h2.77v2.78h-2.77zM43.32,717.02h2.77v2.78h-2.77zM82.03,717.02h2.77v2.78h-2.77zM90.32,717.02h11.06v2.78h-11.06zM106.91,717.02h8.29v2.78h-8.29zM18.43,719.80h8.29v2.78h-8.29zM32.26,719.80h5.53v2.78h-5.53zM40.55,719.80h2.77v2.78h-2.77zM46.08,719.80h2.77v2.78h-2.77zM79.26,719.80h5.53v2.78h-5.53zM90.32,719.80h2.77v2.78h-2.77zM95.85,719.80h2.77v2.78h-2.77zM101.38,719.80h2.77v2.78h-2.77zM112.44,719.80h2.77v2.78h-2.77zM12.90,722.58h2.77v2.78h-2.77zM18.43,722.58h5.53v2.78h-5.53zM29.49,722.58h5.53v2.78h-5.53zM37.79,722.58h11.06v2.78h-11.06zM79.26,722.58h2.77v2.78h-2.77zM93.09,722.58h5.53v2.78h-5.53zM104.15,722.58h11.06v2.78h-11.06zM32.26,725.36h11.06v2.78h-11.06zM84.79,725.36h2.77v2.78h-2.77zM90.32,725.36h8.29v2.78h-8.29zM101.38,725.36h2.77v2.78h-2.77zM106.91,725.36h2.77v2.78h-2.77zM112.44,725.36h2.77v2.78h-2.77zM21.20,728.14h2.77v2.78h-2.77zM29.49,728.14h5.53v2.78h-5.53zM37.79,728.14h2.77v2.78h-2.77zM43.32,728.14h5.53v2.78h-5.53zM82.03,728.14h2.77v2.78h-2.77zM93.09,728.14h2.77v2.78h-2.77zM109.68,728.14h5.53v2.78h-5.53zM12.90,730.92h5.53v2.78h-5.53zM21.20,730.92h8.29v2.78h-8.29zM32.26,730.92h5.53v2.78h-5.53zM40.55,730.92h5.53v2.78h-5.53zM87.56,730.92h5.53v2.78h-5.53zM95.85,730.92h8.29v2.78h-8.29zM106.91,730.92h2.77v2.78h-2.77zM12.90,733.70h11.06v2.78h-11.06zM29.49,733.70h13.83v2.78h-13.83zM79.26,733.70h8.29v2.78h-8.29zM90.32,733.70h2.77v2.78h-2.77zM95.85,733.70h8.29v2.78h-8.29zM109.68,733.70h2.77v2.78h-2.77zM12.90,736.48h8.29v2.78h-8.29zM23.96,736.48h5.53v2.78h-5.53zM32.26,736.48h2.77v2.78h-2.77zM40.55,736.48h5.53v2.78h-5.53zM79.26,736.48h2.77v2.78h-2.77zM84.79,736.48h2.77v2.78h-2.77zM93.09,736.48h5.53v2.78h-5.53zM104.15,736.48h2.77v2.78h-2.77zM112.44,736.48h2.77v2.78h-2.77zM21.20,739.26h5.53v2.78h-5.53zM29.49,739.26h5.53v2.78h-5.53zM37.79,739.26h2.77v2.78h-2.77zM46.08,739.26h2.77v2.78h-2.77zM98.62,739.26h16.59v2.78h-16.59zM15.67,742.04h2.77v2.78h-2.77zM23.96,742.04h2.77v2.78h-2.77zM32.26,742.04h8.29v2.78h-8.29zM43.32,742.04h5.53v2.78h-5.53zM84.79,742.04h2.77v2.78h-2.77zM93.09,742.04h2.77v2.78h-2.77zM101.38,742.04h2.77v2.78h-2.77zM112.44,742.04h2.77v2.78h-2.77zM12.90,744.82h2.77v2.78h-2.77zM29.49,744.82h8.29v2.78h-8.29zM40.55,744.82h11.06v2.78h-11.06zM59.91,744.82h2.77v2.78h-2.77zM65.44,744.82h2.77v2.78h-2.77zM73.73,744.82h8.29v2.78h-8.29zM87.56,744.82h2.77v2.78h-2.77zM93.09,744.82h5.53v2.78h-5.53zM112.44,744.82h2.77v2.78h-2.77zM15.67,747.60h11.06v2.78h-11.06zM37.79,747.60h2.77v2.78h-2.77zM43.32,747.60h2.77v2.78h-2.77zM51.61,747.60h2.77v2.78h-2.77zM57.14,747.60h2.77v2.78h-2.77zM68.20,747.60h2.77v2.78h-2.77zM73.73,747.60h8.29v2.78h-8.29zM93.09,747.60h8.29v2.78h-8.29zM104.15,747.60h11.06v2.78h-11.06zM12.90,750.38h2.77v2.78h-2.77zM18.43,750.38h8.29v2.78h-8.29zM29.49,750.38h2.77v2.78h-2.77zM40.55,750.38h2.77v2.78h-2.77zM46.08,750.38h2.77v2.78h-2.77zM51.61,750.38h13.83v2.78h-13.83zM73.73,750.38h2.77v2.78h-2.77zM79.26,750.38h8.29v2.78h-8.29zM93.09,750.38h8.29v2.78h-8.29zM104.15,750.38h11.06v2.78h-11.06zM15.67,753.16h2.77v2.78h-2.77zM32.26,753.16h5.53v2.78h-5.53zM43.32,753.16h5.53v2.78h-5.53zM51.61,753.16h2.77v2.78h-2.77zM57.14,753.16h2.77v2.78h-2.77zM62.67,753.16h11.06v2.78h-11.06zM79.26,753.16h8.29v2.78h-8.29zM90.32,753.16h2.77v2.78h-2.77zM95.85,753.16h8.29v2.78h-8.29zM12.90,755.94h5.53v2.78h-5.53zM23.96,755.94h8.29v2.78h-8.29zM35.02,755.94h5.53v2.78h-5.53zM46.08,755.94h2.77v2.78h-2.77zM51.61,755.94h2.77v2.78h-2.77zM59.91,755.94h8.29v2.78h-8.29zM70.97,755.94h8.29v2.78h-8.29zM87.56,755.94h16.59v2.78h-16.59zM106.91,755.94h5.53v2.78h-5.53zM35.02,758.72h13.83v2.78h-13.83zM51.61,758.72h2.77v2.78h-2.77zM62.67,758.72h5.53v2.78h-5.53zM73.73,758.72h11.06v2.78h-11.06zM90.32,758.72h2.77v2.78h-2.77zM101.38,758.72h2.77v2.78h-2.77zM109.68,758.72h5.53v2.78h-5.53zM12.90,761.50h19.36v2.78h-19.36zM37.79,761.50h11.06v2.78h-11.06zM51.61,761.50h2.77v2.78h-2.77zM65.44,761.50h2.77v2.78h-2.77zM84.79,761.50h8.29v2.78h-8.29zM95.85,761.50h2.77v2.78h-2.77zM101.38,761.50h2.77v2.78h-2.77zM106.91,761.50h8.29v2.78h-8.29zM12.90,764.28h2.77v2.78h-2.77zM29.49,764.28h2.77v2.78h-2.77zM37.79,764.28h5.53v2.78h-5.53zM46.08,764.28h5.53v2.78h-5.53zM57.14,764.28h2.77v2.78h-2.77zM65.44,764.28h8.29v2.78h-8.29zM76.50,764.28h5.53v2.78h-5.53zM84.79,764.28h2.77v2.78h-2.77zM90.32,764.28h2.77v2.78h-2.77zM101.38,764.28h2.77v2.78h-2.77zM106.91,764.28h2.77v2.78h-2.77zM112.44,764.28h2.77v2.78h-2.77zM12.90,767.06h2.77v2.78h-2.77zM18.43,767.06h8.29v2.78h-8.29zM29.49,767.06h2.77v2.78h-2.77zM37.79,767.06h5.53v2.78h-5.53zM46.08,767.06h5.53v2.78h-5.53zM54.38,767.06h2.77v2.78h-2.77zM70.97,767.06h8.29v2.78h-8.29zM82.03,767.06h5.53v2.78h-5.53zM90.32,767.06h16.59v2.78h-16.59zM112.44,767.06h2.77v2.78h-2.77zM12.90,769.84h2.77v2.78h-2.77zM18.43,769.84h8.29v2.78h-8.29zM29.49,769.84h2.77v2.78h-2.77zM35.02,769.84h5.53v2.78h-5.53zM43.32,769.84h2.77v2.78h-2.77zM54.38,769.84h2.77v2.78h-2.77zM65.44,769.84h8.29v2.78h-8.29zM76.50,769.84h2.77v2.78h-2.77zM82.03,769.84h2.77v2.78h-2.77zM93.09,769.84h2.77v2.78h-2.77zM98.62,769.84h16.59v2.78h-16.59zM12.90,772.62h2.77v2.78h-2.77zM18.43,772.62h8.29v2.78h-8.29zM29.49,772.62h2.77v2.78h-2.77zM37.79,772.62h5.53v2.78h-5.53zM51.61,772.62h19.36v2.78h-19.36zM73.73,772.62h2.77v2.78h-2.77zM82.03,772.62h2.77v2.78h-2.77zM87.56,772.62h2.77v2.78h-2.77zM93.09,772.62h2.77v2.78h-2.77zM101.38,772.62h5.53v2.78h-5.53zM112.44,772.62h2.77v2.78h-2.77zM12.90,775.40h2.77v2.78h-2.77zM29.49,775.40h2.77v2.78h-2.77zM48.84,775.40h2.77v2.78h-2.77zM54.38,775.40h5.53v2.78h-5.53zM62.67,775.40h2.77v2.78h-2.77zM73.73,775.40h2.77v2.78h-2.77zM82.03,775.40h13.83v2.78h-13.83zM12.90,778.18h19.36v2.78h-19.36zM37.79,778.18h19.36v2.78h-19.36zM62.67,778.18h11.06v2.78h-11.06zM79.26,778.18h5.53v2.78h-5.53zM87.56,778.18h5.53v2.78h-5.53zM95.85,778.18h5.53v2.78h-5.53zM109.68,778.18h5.53v2.78h-5.53z" fill="#000"/><g transform="translate(51.84,714.28) scale(0.0281)" fill="#111"><polygon points="45,72 425,285 425,390 128,228 128,295 425,460 425,565 128,405 128,475 425,640 425,745 45,530"/><polygon points="445,290 540,235 540,405 740,295 740,125 825,72 825,525 445,745 445,640 740,475 740,405 445,565"/></g><rect x="52.4" y="739.1" width="23.1" height="1.7" fill="#2a2a2a"/><rect x="54.9" y="742.5" width="17.8" height="1.1" fill="#bbb"/>
</svg>
</body></html>
